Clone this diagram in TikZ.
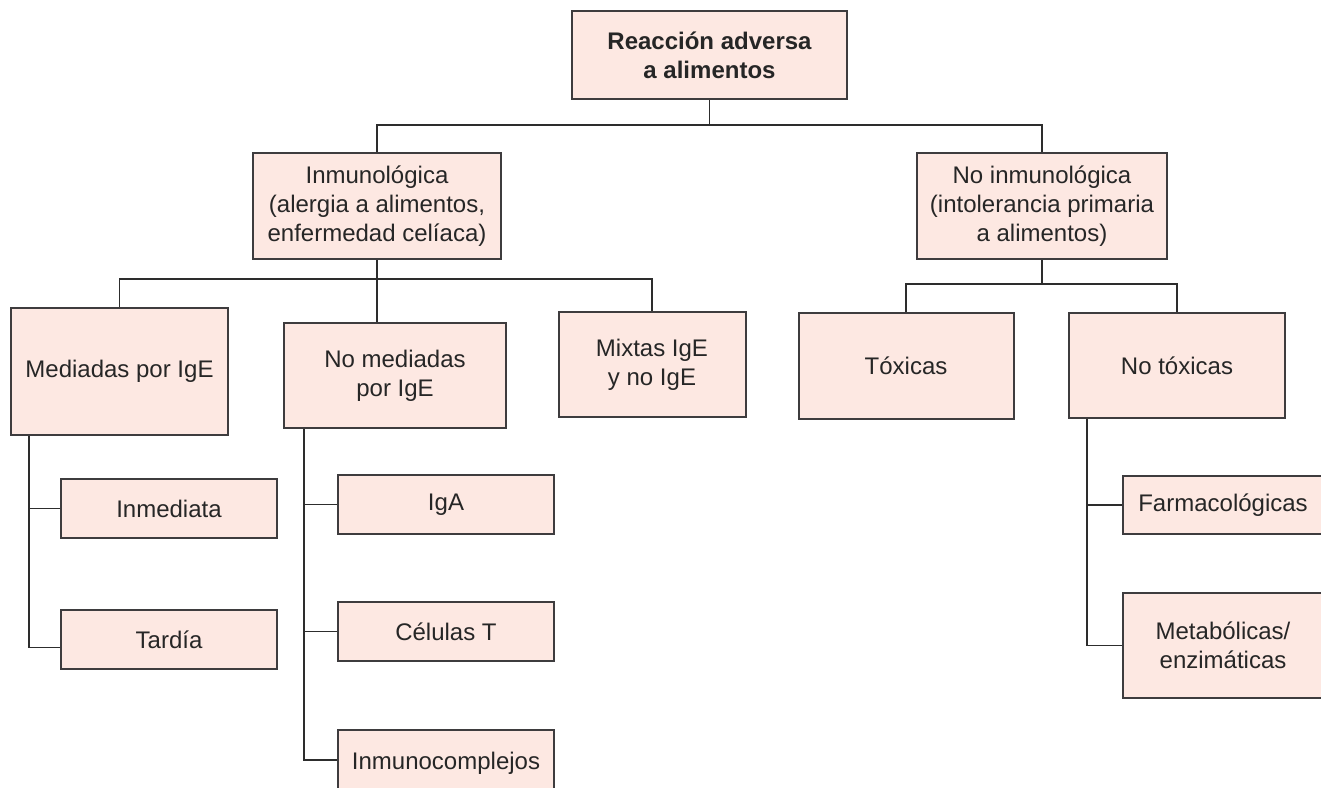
\documentclass[tikz,border=0pt]{standalone}
\usepackage{fontspec}
\setmainfont{Liberation Sans}
\usepackage{tikz}
\definecolor{boxfill}{RGB}{253,232,226}
\definecolor{boxline}{RGB}{62,60,62}
\definecolor{linkline}{RGB}{45,45,45}

\begin{document}
\begin{tikzpicture}[x=0.5pt,y=-0.5pt,
  cat/.style={draw=boxline,line width=1pt,fill=boxfill,align=center,inner sep=0pt,
    font=\fontsize{12pt}{14.5pt}\selectfont,text=black!85},
  link/.style={draw=linkline,line width=0.8pt}]
  \clip (0,0) rectangle (1321,787);

  % main levels
  \node[cat,minimum width=137.5pt,minimum height=44pt,font=\fontsize{12pt}{14.5pt}\selectfont\bfseries] (root) at (709.5,55) {Reacción adversa\\a alimentos};
  \node[cat,minimum width=124pt,minimum height=53pt] (inm) at (377,206) {Inmunológica\\(alergia a alimentos,\\enfermedad celíaca)};
  \node[cat,minimum width=125pt,minimum height=53pt] (noinm) at (1042,206) {No inmunológica\\(intolerancia primaria\\a alimentos)};

  \node[cat,minimum width=108.5pt,minimum height=63.5pt] (med) at (119.5,371.5) {Mediadas por IgE};
  \node[cat,minimum width=111pt,minimum height=52.5pt] (nomed) at (395,375.5) {No mediadas\\por IgE};
  \node[cat,minimum width=93.5pt,minimum height=52.5pt] (mix) at (652,364.5) {Mixtas IgE\\y no IgE};
  \node[cat,minimum width=107.5pt,minimum height=53pt] (tox) at (906,366) {Tóxicas};
  \node[cat,minimum width=108pt,minimum height=52.5pt] (notox) at (1177,365.5) {No tóxicas};

  % leaves
  \node[cat,minimum width=108pt,minimum height=29.5pt] (inmed) at (169,508.5) {Inmediata};
  \node[cat,minimum width=108pt,minimum height=29.5pt] (tard) at (169,639.5) {Tardía};
  \node[cat,minimum width=108pt,minimum height=29.5pt] (iga) at (446,504.5) {IgA};
  \node[cat,minimum width=108pt,minimum height=29.5pt] (celt) at (446,631.5) {Células T};
  \node[cat,minimum width=108pt,minimum height=33pt] (inmc) at (446,763) {Inmunocomplejos};
  \node[cat,minimum width=100pt,minimum height=29pt] (farm) at (1223,505) {Farmacológicas};
  \node[cat,minimum width=100pt,minimum height=52.5pt] (meta) at (1223,645.5) {Metabólicas/\\enzimáticas};

  % junctions and trunks
  \coordinate (j1) at (709.5,125);
  \coordinate (j2) at (377,279);
  \coordinate (j3) at (1042,284);
  \coordinate (medtrunk) at (29,0);
  \coordinate (nomedtrunk) at (304,0);
  \coordinate (notoxtrunk) at (1087,0);

  \draw[link] (root) -- (j1);
  \draw[link] (inm.north) |- (j1) -| (noinm.north);
  \draw[link] (inm) -- (j2);
  \draw[link] (med.north) |- (j2) -| (mix.north);
  \draw[link] (j2) -- (j2 |- nomed.north);
  \draw[link] (noinm) -- (j3);
  \draw[link] (tox.north) |- (j3) -| (notox.north);

  \draw[link] (med.south -| medtrunk) |- ([yshift=-4pt]tard.west);
  \draw[link] (medtrunk |- inmed.west) -- (inmed.west);
  \draw[link] (nomed.south -| nomedtrunk) |- ([yshift=1.5pt]inmc.west);
  \draw[link] (nomedtrunk |- iga.west) -- (iga.west);
  \draw[link] (nomedtrunk |- celt.west) -- (celt.west);
  \draw[link] (notox.south -| notoxtrunk) |- (meta.west);
  \draw[link] (notoxtrunk |- farm.west) -- (farm.west);
\end{tikzpicture}
\end{document}
